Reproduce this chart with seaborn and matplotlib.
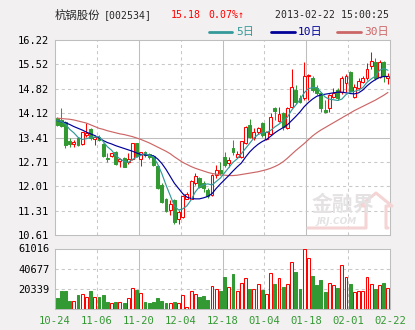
import matplotlib
matplotlib.use("Agg")
import matplotlib.pyplot as plt
import numpy as np
import pandas as pd
import seaborn as sns

# ---- daily quotes, 2012-10-24 .. 2013-02-22 ----
opens = [13.97, 13.92, 13.87, 13.32, 13.23, 13.39, 13.22, 13.48, 13.65, 13.36,
         13.44, 13.22, 12.83, 12.88, 13.01, 12.75, 12.82, 12.72, 12.79, 13.25,
         12.79, 13.01, 12.95, 12.88, 12.60, 12.05, 11.65, 11.33, 11.62, 11.06,
         11.14, 11.66, 11.66, 12.12, 12.26, 12.10, 11.90, 11.76, 12.34, 12.48,
         12.86, 12.67, 13.10, 12.86, 12.86, 13.25, 13.77, 13.41, 13.56, 13.82,
         13.37, 13.53, 14.25, 13.89, 14.11, 13.68, 14.30, 14.78, 14.56, 14.54,
         15.17, 15.14, 14.85, 14.69, 14.21, 14.25, 14.59, 14.78, 14.73, 14.97,
         15.31, 14.59, 14.83, 15.02, 15.12, 15.48, 15.60, 15.15, 15.58, 15.12]
highs = [14.00, 14.27, 13.90, 13.39, 13.34, 13.44, 13.58, 13.82, 13.68, 13.49,
         13.49, 13.25, 12.96, 12.98, 13.04, 12.82, 12.85, 12.96, 13.27, 13.27,
         13.01, 13.03, 12.98, 12.91, 12.62, 12.10, 11.67, 11.61, 11.66, 11.33,
         11.76, 11.84, 12.19, 12.38, 12.29, 12.15, 11.95, 12.36, 12.62, 12.72,
         13.01, 12.86, 13.34, 13.03, 13.32, 13.75, 13.94, 13.68, 13.72, 13.87,
         13.60, 14.11, 14.30, 14.30, 14.16, 14.30, 15.39, 14.93, 14.64, 15.58,
         15.23, 15.17, 14.93, 14.73, 14.49, 14.66, 14.85, 14.83, 15.17, 15.23,
         15.33, 14.94, 15.12, 15.17, 15.55, 15.88, 15.69, 15.64, 15.62, 15.26]
lows = [13.75, 13.72, 13.10, 13.15, 13.15, 13.17, 13.20, 13.44, 13.34, 13.20,
        13.30, 12.86, 12.72, 12.86, 12.62, 12.56, 12.56, 12.65, 12.77, 12.86,
        12.60, 12.86, 12.80, 12.60, 11.92, 11.52, 11.28, 11.18, 10.93, 10.94,
        11.10, 11.64, 11.64, 12.05, 11.97, 11.85, 11.68, 11.74, 12.24, 12.34,
        12.58, 12.58, 12.91, 12.83, 12.83, 13.22, 13.39, 13.34, 13.53, 13.44,
        13.34, 13.49, 13.92, 13.87, 13.63, 13.66, 14.25, 14.37, 14.40, 14.49,
        14.49, 14.73, 14.64, 14.16, 14.11, 14.16, 14.54, 14.49, 14.68, 14.73,
        14.73, 14.54, 14.78, 14.97, 15.07, 15.40, 15.07, 15.12, 15.00, 14.94]
closes = [13.78, 13.74, 13.20, 13.22, 13.28, 13.20, 13.56, 13.55, 13.39, 13.44,
          13.35, 12.89, 12.79, 12.96, 12.65, 12.80, 12.58, 12.79, 13.25, 12.88,
          13.01, 12.91, 12.84, 12.62, 11.95, 11.57, 11.31, 11.49, 10.99, 11.28,
          11.74, 11.79, 12.16, 12.31, 12.00, 11.95, 11.74, 12.34, 12.48, 12.38,
          12.62, 12.77, 13.01, 12.94, 13.30, 13.73, 13.44, 13.56, 13.70, 13.49,
          13.56, 14.01, 14.18, 14.08, 13.73, 14.25, 14.86, 14.45, 14.45, 15.19,
          15.21, 14.78, 14.69, 14.25, 14.16, 14.64, 14.70, 14.54, 15.14, 15.19,
          14.75, 14.88, 15.04, 15.12, 15.40, 15.61, 15.12, 15.60, 15.17, 15.18]
volumes = [11400, 18200, 18200, 8100, 8100, 14100, 14800, 12100, 18200, 12100,
           12100, 14100, 7100, 6000, 7100, 7100, 6000, 11100, 21200, 19500,
           16100, 7100, 6000, 7100, 11400, 8100, 6000, 6000, 7100, 6000,
           14100, 2000, 18200, 15100, 12100, 13100, 9100, 23200, 20200, 18200,
           32300, 22200, 35300, 18200, 26200, 31300, 20000, 20200, 25200, 19200,
           14800, 36300, 25200, 31300, 22200, 25200, 47400, 37300, 20200, 61016,
           51400, 33300, 24200, 29200, 17100, 26200, 24200, 21200, 44400, 32300,
           25200, 17100, 18200, 18200, 32300, 25200, 20200, 24200, 26200, 21200]

# moving averages as published with the quotes
ma5 = [13.90, 13.88, 13.80, 13.65, 13.55, 13.42, 13.36, 13.38, 13.42, 13.43,
       13.44, 13.30, 13.15, 13.05, 12.90, 12.80, 12.73, 12.70, 12.78, 12.85,
       12.90, 12.96, 12.90, 12.86, 12.65, 12.38, 12.05, 11.75, 11.45, 11.33,
       11.36, 11.45, 11.62, 11.85, 12.00, 12.06, 12.08, 12.05, 12.15, 12.25,
       12.40, 12.55, 12.70, 12.80, 12.95, 13.10, 13.25, 13.40, 13.50, 13.55,
       13.56, 13.62, 13.72, 13.80, 13.90, 14.00, 14.20, 14.35, 14.50, 14.70,
       14.82, 14.85, 14.85, 14.72, 14.58, 14.52, 14.50, 14.48, 14.52, 14.65,
       14.72, 14.74, 14.78, 14.85, 15.00, 15.10, 15.18, 15.35, 15.40, 15.35]
ma10 = [13.90, 13.87, 13.84, 13.79, 13.73, 13.68, 13.63, 13.57, 13.52, 13.47,
        13.40, 13.33, 13.27, 13.23, 13.18, 13.14, 13.10, 13.06, 13.02, 12.97,
        12.93, 12.91, 12.90, 12.89, 12.80, 12.67, 12.50, 12.30, 12.10, 11.95,
        11.80, 11.70, 11.66, 11.65, 11.65, 11.68, 11.72, 11.80, 11.95, 12.08,
        12.20, 12.32, 12.45, 12.57, 12.68, 12.85, 13.00, 13.12, 13.22, 13.30,
        13.36, 13.45, 13.55, 13.63, 13.70, 13.78, 13.90, 14.02, 14.15, 14.30,
        14.42, 14.52, 14.60, 14.64, 14.66, 14.68, 14.70, 14.72, 14.72, 14.70,
        14.68, 14.67, 14.70, 14.78, 14.90, 15.00, 15.08, 15.14, 15.17, 15.17]
ma30 = [13.97, 13.96, 13.95, 13.94, 13.92, 13.89, 13.86, 13.83, 13.78, 13.73,
        13.68, 13.65, 13.61, 13.58, 13.55, 13.52, 13.50, 13.47, 13.44, 13.40,
        13.36, 13.31, 13.26, 13.20, 13.14, 13.08, 13.02, 12.95, 12.86, 12.78,
        12.70, 12.64, 12.58, 12.53, 12.49, 12.45, 12.41, 12.38, 12.36, 12.34,
        12.33, 12.32, 12.32, 12.33, 12.35, 12.37, 12.39, 12.41, 12.43, 12.46,
        12.49, 12.53, 12.58, 12.64, 12.72, 12.82, 12.93, 13.04, 13.14, 13.24,
        13.35, 13.46, 13.55, 13.63, 13.70, 13.77, 13.84, 13.91, 13.98, 14.05,
        14.12, 14.19, 14.25, 14.31, 14.37, 14.43, 14.49, 14.56, 14.63, 14.71]

price_ticks = [16.22, 15.52, 14.82, 14.12, 13.41, 12.71, 12.01, 11.31, 10.61]
volume_ticks = [61016, 40677, 20339]
date_labels = ["10-24", "11-06", "11-20", "12-04", "12-18",
               "01-04", "01-18", "02-01", "02-22"]

RED = "#FF0000"
GREEN = "#339933"
C5, C10, C30 = "#339999", "#000099", "#CC6666"
GRID = "#C8C8C8"
FRAME = "#BEBEBE"
BG = "#F2F0F0"

df = pd.DataFrame({"day": np.arange(len(closes)), "open": opens, "high": highs,
                   "low": lows, "close": closes, "volume": volumes,
                   "ma5": ma5, "ma10": ma10, "ma30": ma30})
df["up"] = df["close"] >= df["open"]

sns.set_theme(style="white")
plt.rcParams["font.family"] = ["DejaVu Sans Mono", "Noto Sans CJK SC"]

W, H = 415, 330
fig = plt.figure(figsize=(W / 100, H / 100), dpi=100, facecolor=BG)
ax = fig.add_axes([55 / W, 1 - 235 / H, 335 / W, 195 / H])
axv = fig.add_axes([55 / W, 1 - 309 / H, 335 / W, 60.5 / H])
LW = 0.75  # one device pixel


def px(x, y):
    return x / W, 1 - y / H


# watermark behind the panels' marks
wm = "#E4E2E2"
fig.text(*px(343, 204), "金融界", fontsize=15, fontweight="bold", color=wm,
         ha="center", va="center", family="Noto Sans CJK SC", zorder=5)
fig.text(*px(316, 222), "JRJ.COM", fontsize=6.5, fontweight="bold",
         style="italic", color=wm, ha="left", va="center", zorder=5,
         family="DejaVu Sans")
house_x = [308, 366, 366, 360, 376, 392, 386, 386, 388]
house_y = [228, 228, 206, 206, 193, 206, 206, 228, 228]
fig.add_artist(plt.Line2D([x / W for x in house_x], [1 - y / H for y in house_y],
                          color="#F4D4D4", lw=2.2, transform=fig.transFigure,
                          zorder=5))

xmin, xmax = -0.5, len(closes) - 0.5
grid_x = [xmin + 10 * k for k in range(1, 8)]

for a in (ax, axv):
    a.set_facecolor("none")
    a.set_xlim(xmin, xmax)
    for s in a.spines.values():
        s.set_color(FRAME)
        s.set_linewidth(LW)
    a.tick_params(length=0, pad=4, labelsize=7.5)
    for k, gx in enumerate(grid_x, start=1):
        if k % 2 == 0:
            a.axvline(gx, color=FRAME, lw=LW, zorder=0.5)
        else:
            a.axvline(gx, color=GRID, lw=LW, ls=(0, (3, 3)), zorder=0.5)

# white plotting areas under the watermark
for a in (ax, axv):
    bb = a.get_position()
    fig.add_artist(plt.Rectangle((bb.x0, bb.y0), bb.width, bb.height,
                                 facecolor="white", edgecolor="none",
                                 transform=fig.transFigure, zorder=-1))

# price panel grid
ax.set_ylim(price_ticks[-1], price_ticks[0])
ax.set_yticks(price_ticks)
ax.set_yticklabels([f"{t:.2f}" for t in price_ticks], color="black")
for t in price_ticks[1:-1]:
    if t == 13.41:
        ax.axhline(t, color=FRAME, lw=LW, zorder=0.5)
    else:
        ax.axhline(t, color=GRID, lw=LW, ls=(0, (3, 3)), zorder=0.5)
ax.set_xticks([])

# candlesticks
for up, color in ((True, RED), (False, GREEN)):
    d = df[df["up"] == up]
    ax.vlines(d["day"], d["low"], d["high"], color=color, lw=LW, zorder=2)
    body = (d["close"] - d["open"]).abs().clip(lower=0.02)
    bottom = d[["open", "close"]].min(axis=1)
    ax.bar(d["day"], body, bottom=bottom, width=0.68,
           facecolor="white" if up else color, edgecolor=color,
           linewidth=LW, zorder=3)

# moving averages
for col, color in (("ma30", C30), ("ma10", C10), ("ma5", C5)):
    sns.lineplot(data=df, x="day", y=col, ax=ax, color=color, lw=0.85,
                 zorder=4, legend=False)
ax.set_xlabel("")
ax.set_ylabel("")
ax.set_xlim(xmin, xmax)

# volume panel
axv.set_ylim(0, volume_ticks[0])
axv.set_yticks(volume_ticks)
axv.set_yticklabels([str(v) for v in volume_ticks], color="black")
for t in volume_ticks[1:]:
    axv.axhline(t, color=GRID, lw=LW, ls=(0, (3, 3)), zorder=0.5)
for up, color in ((True, RED), (False, GREEN)):
    d = df[df["up"] == up]
    axv.bar(d["day"], d["volume"], width=0.68,
            facecolor="white" if up else color, edgecolor=color,
            linewidth=LW, zorder=3)
axv.set_xticks([xmin] + grid_x + [xmax])
axv.set_xticklabels(date_labels, color=GREEN, fontsize=7.6)
axv.tick_params(axis="x", pad=5)

# header
cjk = ["Noto Sans CJK SC", "DejaVu Sans"]
mono = ["DejaVu Sans Mono", "Noto Sans CJK SC"]
fig.text(*px(55, 15), "杭锅股份", fontsize=8.2, family=cjk, va="center", ha="left")
fig.text(*px(104, 15), "[002534]", fontsize=7.1, family=mono, va="center", ha="left")
fig.text(*px(171, 15), "15.18", fontsize=7.1, color=RED, family=mono,
         va="center", ha="left")
fig.text(*px(208, 15), "0.07%↑", fontsize=7.1, color=RED, family=mono,
         va="center", ha="left")
fig.text(*px(389, 15), "2013-02-22 15:00:25", fontsize=7.1, family=mono,
         va="center", ha="right")

legend_items = [(209, 232, 236, "5日", C5), (271, 295, 298, "10日", C10),
                (337, 361, 364, "30日", C30)]
for x0, x1, xt, label, color in legend_items:
    fig.add_artist(plt.Line2D([x0 / W, x1 / W], [1 - 32 / H, 1 - 32 / H],
                              color=color, lw=2, transform=fig.transFigure))
    fig.text(*px(xt, 32.5), label, fontsize=8, color=color, family=mono,
             va="center", ha="left")

fig.savefig("out.png", dpi=100, facecolor=BG)
